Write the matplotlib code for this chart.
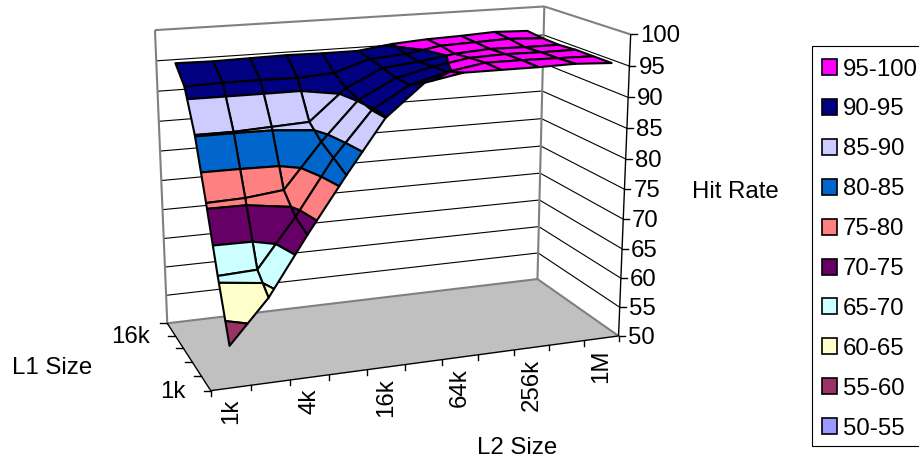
import numpy as np
import matplotlib
matplotlib.use("Agg")
import matplotlib.pyplot as plt
from matplotlib.collections import PolyCollection
from matplotlib.patches import Rectangle, Polygon

plt.rcParams['font.family'] = ['Liberation Sans', 'DejaVu Sans']

l2_labels = ['1k', '', '4k', '', '16k', '', '64k', '', '256k', '', '1M']
l1_labels = ['1k', '', '', '', '16k', '']
z_ticks = list(range(50, 101, 5))
band_labels = ['95-100', '90-95', '85-90', '80-85', '75-80', '70-75', '65-70', '60-65', '55-60', '50-55']
band_colors = ['#FF00FF', '#000080', '#CCCCFF', '#0066CC', '#FF8080', '#660066', '#CCFFFF', '#FFFFCC', '#993366', '#9999FF']

# Hit rate per L1 row (front to back), one value per L2 size
row_1 = [56.8, 63.7, 72.9, 81.6, 89.9, 94.8, 95.9, 95.9, 95.9, 96.0, 95.7]
row_2 = [65.9, 66.2, 74.0, 82.8, 89.8, 93.3, 94.9, 95.9, 95.9, 95.8, 95.7]
row_3 = [75.8, 76.0, 76.7, 83.9, 90.2, 93.2, 94.6, 95.6, 95.8, 95.7, 95.7]
row_4 = [85.2, 85.2, 85.5, 85.8, 90.9, 93.7, 94.3, 95.2, 95.6, 95.5, 95.5]
row_5 = [91.7, 91.9, 91.9, 91.8, 92.2, 94.1, 94.5, 95.5, 95.7, 95.9, 95.6]
row_6 = [94.4, 94.3, 94.4, 94.5, 94.4, 94.4, 95.2, 95.6, 95.8, 96.1, 95.9]
hit = np.array([row_1, row_2, row_3, row_4, row_5, row_6])

# Perspective camera of the chart box, calibrated on its corners
cal3 = [(0,0,50),(11,0,50),(11,5,50),(0,5,50),(0,5,100),(11,5,100),(11,0,100)]
cal2 = [(211,390),(618,337),(538,278),(167,324),(155,30),(544,7),(631,34)]
A = []; b = []
for (X,Y,Z),(u,v) in zip(cal3,cal2):
    A.append([X,Y,Z,1,0,0,0,0,-u*X,-u*Y,-u*Z]); b.append(u)
    A.append([0,0,0,0,X,Y,Z,1,-v*X,-v*Y,-v*Z]); b.append(v)
p = np.linalg.lstsq(np.array(A,float),np.array(b,float),rcond=None)[0]
def proj(x,y,z):
    w = p[8]*x+p[9]*y+p[10]*z+1
    return ((p[0]*x+p[1]*y+p[2]*z+p[3])/w,(p[4]*x+p[5]*y+p[6]*z+p[7])/w)

FS = 17.3
fig = plt.figure(figsize=(9.19,4.63),dpi=100)
ax = fig.add_axes([0,0,1,1]); ax.set_xlim(0,919); ax.set_ylim(463,0); ax.axis('off')

def line(a,b_,c='k',lw=0.8,z=2):
    P = proj(*a); Q = proj(*b_)
    ax.plot([P[0],Q[0]],[P[1],Q[1]],color=c,lw=lw,zorder=z,solid_capstyle='butt')

ax.add_patch(Polygon([proj(0,0,50),proj(11,0,50),proj(11,5,50),proj(0,5,50)],fc='#C0C0C0',ec='none',zorder=1))
for z in z_ticks[1:-1]:
    line((0,5,z),(11,5,z)); line((11,5,z),(11,0,z))
G = '#808080'
for a,b_ in [((0,5,50),(0,5,100)),((0,5,100),(11,5,100)),((11,5,50),(11,5,100)),((11,5,100),(11,0,100)),((0,5,50),(11,5,50)),((11,5,50),(11,0,50))]:
    line(a,b_,G,1.5,3)
for a,b_ in [((0,0,50),(11,0,50)),((0,0,50),(0,5,50)),((11,0,50),(11,0,100))]:
    line(a,b_,'k',1.0,4)
for z in z_ticks:
    P = proj(11,0,z)
    ax.plot([P[0],P[0]+6],[P[1],P[1]],'k',lw=1.0,zorder=4)
    ax.text(P[0]+9,P[1]-0.5,str(z),ha='left',va='center_baseline',fontsize=FS)
for i in range(12):
    P = proj(i,0,50); ax.plot([P[0],P[0]],[P[1],P[1]+5],'k',lw=1.0,zorder=4)
for i in range(6):
    P = proj(0,i,50); ax.plot([P[0],P[0]-7],[P[1],P[1]],'k',lw=1.0,zorder=4)
for i,t in enumerate(l2_labels):
    if t:
        P = proj(i+.5,0,50)
        ax.text(P[0],P[1]+11,t,rotation=90,ha='center',va='top',fontsize=FS)
for i,t in enumerate(l1_labels):
    if t:
        P = proj(0,i,50)
        ax.text(P[0]-25,P[1]-1.5,t,ha='right',va='center_baseline',fontsize=FS)
ax.text(12,368,'L1 Size',ha='left',va='center',fontsize=FS)
ax.text(517,448,'L2 Size',ha='center',va='center',fontsize=FS)
ax.text(735,192,'Hit Rate',ha='center',va='center',fontsize=FS)

def clip(poly,lim,keep_above):
    out = []
    n = len(poly)
    for i in range(n):
        a = poly[i]; c = poly[(i+1)%n]
        ina = (a[2]>=lim) if keep_above else (a[2]<=lim)
        inc = (c[2]>=lim) if keep_above else (c[2]<=lim)
        if ina: out.append(a)
        if ina!=inc:
            t = (lim-a[2])/(c[2]-a[2])
            out.append(tuple(a[k]+t*(c[k]-a[k]) for k in range(3)))
    return out

verts = []; cols = []
for r in range(4,-1,-1):
    for c in range(9,-1,-1):
        q = [(c+.5,r,hit[r,c]),(c+1.5,r,hit[r,c+1]),(c+1.5,r+1,hit[r+1,c+1]),(c+.5,r+1,hit[r+1,c])]
        for k,col in enumerate(band_colors):
            hi = 100-5*k; lo = hi-5
            pg = clip(q,lo,True)
            if len(pg)>=3: pg = clip(pg,hi,False)
            if len(pg)>=3:
                verts.append([proj(*v) for v in pg]); cols.append(col)
ax.add_collection(PolyCollection(verts,facecolors=cols,edgecolors='k',linewidths=1.5,zorder=5,joinstyle='round'))

ax.add_patch(Rectangle((811.5,45.5),120,400,fc='white',ec='k',lw=0.8,zorder=6))
for i,(t,col) in enumerate(zip(band_labels,band_colors)):
    yc = 67+i*39.9
    ax.add_patch(Rectangle((822,yc-8),15,16,fc=col,ec='k',lw=1.2,zorder=7))
    ax.text(843,yc,t,ha='left',va='center_baseline',fontsize=FS,zorder=7)

fig.savefig('out.png',dpi=100)
